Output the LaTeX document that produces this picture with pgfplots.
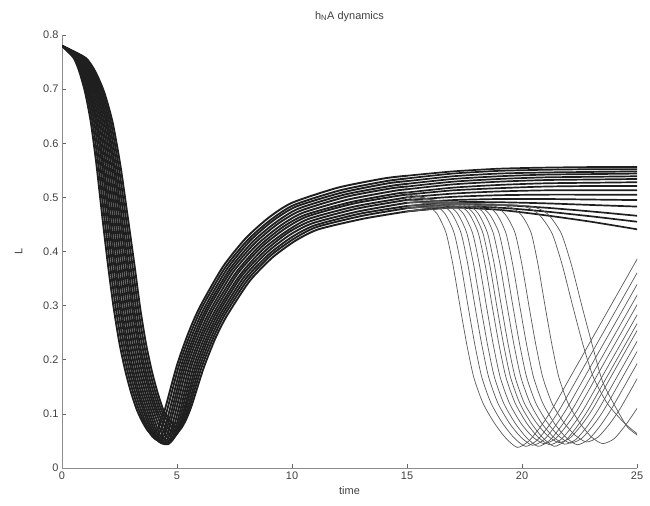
\documentclass[border=0pt]{standalone}
\usepackage{fontspec}
\setmainfont{Liberation Sans}
\usepackage{pgfplots}
\pgfplotsset{compat=1.18}
\begin{document}
\begin{tikzpicture}
\begin{axis}[
  scale only axis, width=575bp, height=433bp,
  xmin=0, xmax=25, ymin=0, ymax=0.8,
  axis x line*=bottom, axis y line*=left,
  axis line style={black!45, line width=0.6pt},
  tick align=inside, major tick length=4bp,
  tick style={black!60, line width=0.6pt},
  xtick={0,5,10,15,20,25}, ytick={0,0.1,0.2,0.3,0.4,0.5,0.6,0.7,0.8},
  /pgf/number format/assume math mode=true,
  yticklabel style={/pgf/number format/fixed, /pgf/number format/precision=1},
  tick label style={font=\fontsize{11}{12}\selectfont, text=black!75},
  label style={font=\fontsize{11}{12}\selectfont, text=black!75},
  ylabel style={yshift=14bp},
  title style={font=\fontsize{11}{12}\selectfont, text=black!75, yshift=4pt},
  title={h\textsubscript{N}A dynamics},
  xlabel={time}, ylabel={L},
  every axis plot/.append style={no marks, smooth, tension=0.4, line cap=round, line join=round},
  band/.style={black!88, line width=1.9pt},
  flat/.style={black!88, line width=1.7pt},
  drop/.style={black!65, line width=0.7pt},
]
\coordinate (bl) at (rel axis cs:0,0);
\coordinate (tr) at (rel axis cs:1,1);
% ---- phase 1: the dense band (t = 0 .. 15)
\addplot[band] coordinates {(0,0.78)(0.5,0.758)(0.75,0.733)(1,0.695)(1.25,0.64)(1.5,0.56)(1.75,0.465)(2,0.375)(2.25,0.295)(2.5,0.23)(2.75,0.18)(3,0.14)(3.25,0.108)(3.5,0.085)(3.75,0.068)(4,0.062)(4.25,0.08)(4.5,0.112)(5,0.19)(5.5,0.25)(6,0.298)(7,0.372)(8,0.425)(9,0.463)(10,0.49)(12,0.518)(14,0.535)(15,0.54)};
\addplot[band] coordinates {(0,0.78)(0.54,0.758)(0.804,0.733)(1.065,0.695)(1.324,0.64)(1.581,0.56)(1.836,0.465)(2.09,0.375)(2.34,0.295)(2.59,0.23)(2.84,0.18)(3.09,0.14)(3.34,0.108)(3.59,0.083)(3.84,0.063)(4.09,0.057)(4.34,0.075)(4.59,0.11)(5.09,0.19)(5.59,0.249)(6.09,0.297)(7.09,0.37)(8.09,0.422)(9.09,0.459)(10.09,0.486)(12.09,0.513)(14.09,0.53)(15,0.535)};
\addplot[band] coordinates {(0,0.78)(0.581,0.758)(0.858,0.733)(1.13,0.695)(1.398,0.64)(1.662,0.56)(1.923,0.465)(2.18,0.375)(2.43,0.295)(2.68,0.23)(2.93,0.18)(3.18,0.14)(3.43,0.108)(3.68,0.080)(3.93,0.058)(4.18,0.052)(4.43,0.07)(4.68,0.107)(5.18,0.189)(5.68,0.248)(6.18,0.295)(7.18,0.368)(8.18,0.420)(9.18,0.457)(10.18,0.483)(12.18,0.509)(14.18,0.526)(15,0.530)};
\addplot[band] coordinates {(0,0.78)(0.622,0.758)(0.912,0.733)(1.194,0.695)(1.471,0.64)(1.743,0.56)(2.009,0.465)(2.27,0.375)(2.52,0.295)(2.77,0.23)(3.02,0.18)(3.27,0.14)(3.52,0.108)(3.77,0.079)(4.02,0.056)(4.27,0.05)(4.52,0.068)(4.77,0.106)(5.27,0.189)(5.77,0.247)(6.27,0.294)(7.27,0.366)(8.27,0.417)(9.27,0.453)(10.27,0.479)(12.27,0.505)(14.27,0.521)(15,0.525)};
\addplot[band] coordinates {(0,0.78)(0.658,0.758)(0.96,0.733)(1.252,0.695)(1.537,0.64)(1.815,0.56)(2.086,0.465)(2.35,0.375)(2.6,0.295)(2.85,0.23)(3.1,0.18)(3.35,0.14)(3.6,0.108)(3.85,0.078)(4.1,0.053)(4.35,0.047)(4.6,0.065)(4.85,0.105)(5.35,0.188)(5.85,0.246)(6.35,0.293)(7.35,0.364)(8.35,0.414)(9.35,0.450)(10.35,0.475)(12.35,0.501)(14.35,0.517)(15,0.520)};
\addplot[band] coordinates {(0,0.78)(0.698,0.758)(1.014,0.733)(1.317,0.695)(1.611,0.64)(1.896,0.56)(2.172,0.465)(2.44,0.375)(2.69,0.295)(2.94,0.23)(3.19,0.18)(3.44,0.14)(3.69,0.108)(3.94,0.077)(4.19,0.051)(4.44,0.045)(4.69,0.063)(4.94,0.104)(5.44,0.188)(5.94,0.245)(6.44,0.291)(7.44,0.362)(8.44,0.411)(9.44,0.446)(10.44,0.471)(12.44,0.496)(14.44,0.512)(15,0.515)};
\addplot[band] coordinates {(0,0.78)(0.739,0.758)(1.068,0.733)(1.382,0.695)(1.685,0.64)(1.977,0.56)(2.259,0.465)(2.53,0.375)(2.78,0.295)(3.03,0.23)(3.28,0.18)(3.53,0.14)(3.78,0.108)(4.03,0.076)(4.28,0.05)(4.53,0.044)(4.78,0.062)(5.03,0.103)(5.53,0.187)(6.03,0.244)(6.53,0.290)(7.53,0.359)(8.53,0.408)(9.53,0.443)(10.53,0.467)(12.53,0.491)(14.53,0.507)(15,0.509)};
\addplot[band] coordinates {(0,0.78)(0.779,0.758)(1.122,0.733)(1.446,0.695)(1.758,0.64)(2.058,0.56)(2.345,0.465)(2.62,0.375)(2.87,0.295)(3.12,0.23)(3.37,0.18)(3.62,0.14)(3.87,0.108)(4.12,0.076)(4.37,0.05)(4.62,0.044)(4.87,0.062)(5.12,0.103)(5.62,0.187)(6.12,0.244)(6.62,0.288)(7.62,0.358)(8.62,0.406)(9.62,0.440)(10.62,0.464)(12.62,0.488)(14.62,0.503)(15,0.505)};
\addplot[band] coordinates {(0,0.78)(0.82,0.758)(1.176,0.733)(1.511,0.695)(1.832,0.64)(2.139,0.56)(2.432,0.465)(2.71,0.375)(2.96,0.295)(3.21,0.23)(3.46,0.18)(3.71,0.14)(3.96,0.108)(4.21,0.078)(4.46,0.053)(4.71,0.047)(4.96,0.065)(5.21,0.105)(5.71,0.186)(6.21,0.243)(6.71,0.287)(7.71,0.355)(8.71,0.403)(9.71,0.436)(10.71,0.460)(12.71,0.483)(14.71,0.498)(15,0.500)};
\addplot[band] coordinates {(0,0.78)(0.86,0.758)(1.23,0.733)(1.576,0.695)(1.906,0.64)(2.22,0.56)(2.518,0.465)(2.8,0.375)(3.05,0.295)(3.3,0.23)(3.55,0.18)(3.8,0.14)(4.05,0.108)(4.3,0.080)(4.55,0.058)(4.8,0.052)(5.05,0.07)(5.3,0.107)(5.8,0.186)(6.3,0.242)(6.8,0.286)(7.8,0.354)(8.8,0.400)(9.8,0.434)(10.8,0.456)(12.8,0.479)(14.8,0.494)(15,0.495)};
\addplot[band] coordinates {(0,0.78)(0.896,0.758)(1.278,0.733)(1.634,0.695)(1.972,0.64)(2.292,0.56)(2.595,0.465)(2.88,0.375)(3.13,0.295)(3.38,0.23)(3.63,0.18)(3.88,0.14)(4.13,0.108)(4.38,0.083)(4.63,0.063)(4.88,0.057)(5.13,0.075)(5.38,0.11)(5.88,0.185)(6.38,0.241)(6.88,0.284)(7.88,0.351)(8.88,0.397)(9.88,0.430)(10.88,0.452)(12.88,0.474)(15,0.490)};
\addplot[band] coordinates {(0,0.78)(0.937,0.758)(1.332,0.733)(1.698,0.695)(2.045,0.64)(2.373,0.56)(2.681,0.465)(2.97,0.375)(3.22,0.295)(3.47,0.23)(3.72,0.18)(3.97,0.14)(4.22,0.108)(4.47,0.085)(4.72,0.068)(4.97,0.062)(5.22,0.08)(5.47,0.112)(5.97,0.185)(6.47,0.240)(6.97,0.283)(7.97,0.349)(8.97,0.394)(9.97,0.426)(10.97,0.448)(12.97,0.470)(15,0.484)};
\addplot[band] coordinates {(0,0.78)(0.977,0.758)(1.386,0.733)(1.763,0.695)(2.119,0.64)(2.454,0.56)(2.768,0.465)(3.06,0.375)(3.31,0.295)(3.56,0.23)(3.81,0.18)(4.06,0.14)(4.31,0.108)(4.56,0.088)(4.81,0.073)(5.06,0.067)(5.31,0.085)(5.56,0.115)(6.06,0.185)(6.56,0.239)(7.06,0.282)(8.06,0.347)(9.06,0.392)(10.06,0.423)(11.06,0.445)(13.06,0.466)(15,0.480)};
\addplot[band] coordinates {(0,0.78)(1.018,0.758)(1.44,0.733)(1.828,0.695)(2.193,0.64)(2.535,0.56)(2.854,0.465)(3.15,0.375)(3.4,0.295)(3.65,0.23)(3.9,0.18)(4.15,0.14)(4.4,0.108)(4.65,0.09)(4.9,0.078)(5.15,0.072)(5.4,0.09)(5.65,0.117)(6.15,0.184)(6.65,0.238)(7.15,0.280)(8.15,0.345)(9.15,0.389)(10.15,0.420)(11.15,0.441)(13.15,0.461)(15,0.474)};
% ---- phase 2: curves that stay on the plateau
\addplot[flat] coordinates {(15,0.540)(17,0.548)(19,0.553)(21,0.555)(23,0.556)(25,0.556)};
\addplot[flat] coordinates {(15,0.535)(17,0.544)(19,0.549)(21,0.551)(23,0.552)(25,0.552)};
\addplot[flat] coordinates {(15,0.530)(17,0.539)(19,0.544)(21,0.546)(23,0.547)(25,0.548)};
\addplot[flat] coordinates {(15,0.525)(17,0.534)(19,0.539)(21,0.542)(23,0.543)(25,0.544)};
\addplot[flat] coordinates {(15,0.520)(17,0.529)(19,0.534)(21,0.537)(23,0.538)(25,0.539)};
\addplot[flat] coordinates {(15,0.515)(17,0.524)(19,0.529)(21,0.532)(23,0.533)(25,0.534)};
\addplot[flat] coordinates {(15,0.509)(17,0.518)(19,0.523)(21,0.526)(23,0.527)(25,0.528)};
\addplot[flat] coordinates {(15,0.505)(17,0.513)(19,0.517)(21,0.520)(23,0.521)(25,0.521)};
\addplot[flat] coordinates {(15,0.500)(17,0.507)(19,0.511)(21,0.513)(23,0.513)(25,0.513)};
\addplot[flat] coordinates {(15,0.495)(17,0.501)(19,0.504)(21,0.505)(23,0.505)(25,0.505)};
\addplot[flat] coordinates {(15,0.490)(17,0.495)(19,0.497)(21,0.497)(23,0.496)(25,0.495)};
\addplot[flat] coordinates {(15,0.484)(17,0.491)(19,0.491)(21,0.489)(23,0.486)(25,0.483)};
\addplot[flat] coordinates {(15,0.480)(17,0.487)(19,0.486)(21,0.481)(23,0.474)(25,0.466)};
\addplot[flat] coordinates {(15,0.474)(17,0.483)(19,0.481)(21,0.474)(23,0.465)(25,0.455)};
\addplot[flat] coordinates {(15,0.474)(17,0.481)(19,0.477)(21,0.467)(23,0.455)(25,0.441)};
% ---- phase 2: curves that drop and rise again
\addplot[drop] coordinates {(15,0.500)(15.8,0.487)(16.3,0.47)(16.7,0.434)(17,0.375)(17.3,0.3)(17.6,0.228)(17.9,0.168)(18.3,0.12)(18.8,0.083)(19.3,0.055)(19.8,0.038)(20.3,0.05)(20.8,0.076)(21.3,0.108)(22.3,0.183)(23.3,0.258)(24.3,0.333)(25.3,0.408)};
\addplot[drop] coordinates {(15,0.495)(16.15,0.487)(16.65,0.47)(17.05,0.434)(17.35,0.375)(17.65,0.3)(17.95,0.228)(18.25,0.168)(18.65,0.12)(19.15,0.083)(19.65,0.056)(20.15,0.04)(20.65,0.051)(21.15,0.077)(21.65,0.109)(22.65,0.184)(23.65,0.259)(24.65,0.334)(25.65,0.409)};
\addplot[drop] coordinates {(15,0.509)(15.45,0.503)(16.45,0.489)(16.95,0.47)(17.35,0.434)(17.65,0.375)(17.95,0.3)(18.25,0.228)(18.55,0.168)(18.95,0.12)(19.45,0.083)(19.95,0.057)(20.45,0.042)(20.95,0.052)(21.45,0.078)(21.95,0.11)(22.95,0.185)(23.95,0.26)(24.95,0.335)(25.95,0.41)};
\addplot[drop] coordinates {(15,0.490)(15.7,0.491)(16.7,0.487)(17.2,0.47)(17.6,0.434)(17.9,0.375)(18.2,0.3)(18.5,0.228)(18.8,0.168)(19.2,0.12)(19.7,0.083)(20.2,0.056)(20.7,0.04)(21.2,0.051)(21.7,0.077)(22.2,0.109)(23.2,0.184)(24.2,0.259)(25.2,0.334)};
\addplot[drop] coordinates {(15,0.505)(15.95,0.497)(16.95,0.487)(17.45,0.47)(17.85,0.434)(18.15,0.375)(18.45,0.3)(18.75,0.228)(19.05,0.168)(19.45,0.12)(19.95,0.083)(20.45,0.058)(20.95,0.045)(21.45,0.054)(21.95,0.079)(22.45,0.11)(23.45,0.185)(24.45,0.26)(25.45,0.335)};
\addplot[drop] coordinates {(15,0.484)(16.2,0.49)(17.2,0.487)(17.7,0.47)(18.1,0.434)(18.4,0.375)(18.7,0.3)(19,0.228)(19.3,0.168)(19.7,0.12)(20.2,0.083)(20.7,0.057)(21.2,0.043)(21.7,0.053)(22.2,0.078)(22.7,0.11)(23.7,0.185)(24.7,0.26)(25.7,0.335)};
\addplot[drop] coordinates {(15,0.500)(16.4,0.494)(17.4,0.487)(17.9,0.47)(18.3,0.434)(18.6,0.375)(18.9,0.3)(19.2,0.228)(19.5,0.168)(19.9,0.12)(20.4,0.083)(20.9,0.056)(21.4,0.04)(21.9,0.051)(22.4,0.077)(22.9,0.109)(23.9,0.184)(24.9,0.259)(25.9,0.334)};
\addplot[drop] coordinates {(15,0.480)(16.6,0.489)(17.6,0.487)(18.1,0.47)(18.5,0.434)(18.8,0.375)(19.1,0.3)(19.4,0.228)(19.7,0.168)(20.1,0.12)(20.6,0.085)(21.1,0.06)(21.6,0.047)(22.1,0.056)(22.6,0.08)(23.1,0.111)(24.1,0.186)(25.1,0.261)};
\addplot[drop] coordinates {(15,0.495)(16.85,0.491)(17.85,0.487)(18.35,0.47)(18.75,0.434)(19.05,0.375)(19.35,0.3)(19.65,0.228)(19.95,0.168)(20.35,0.12)(20.85,0.083)(21.35,0.058)(21.85,0.044)(22.35,0.053)(22.85,0.078)(23.35,0.11)(24.35,0.185)(25.35,0.26)};
\addplot[drop] coordinates {(15,0.474)(17.1,0.487)(18.1,0.485)(18.6,0.468)(19,0.434)(19.3,0.375)(19.6,0.3)(19.9,0.228)(20.2,0.168)(20.6,0.12)(21.1,0.084)(21.6,0.059)(22.1,0.046)(22.6,0.055)(23.1,0.079)(23.6,0.11)(24.6,0.185)(25.6,0.26)};
\addplot[drop] coordinates {(15,0.490)(17.4,0.49)(18.4,0.486)(18.9,0.469)(19.3,0.434)(19.6,0.375)(19.9,0.3)(20.2,0.228)(20.5,0.168)(20.9,0.12)(21.4,0.083)(21.9,0.057)(22.4,0.043)(22.9,0.053)(23.4,0.078)(23.9,0.11)(24.9,0.185)(25.9,0.26)};
\addplot[drop] coordinates {(15,0.480)(17.8,0.488)(18.8,0.484)(19.3,0.467)(19.7,0.434)(20,0.375)(20.3,0.3)(20.6,0.228)(20.9,0.168)(21.3,0.12)(21.8,0.085)(22.3,0.061)(22.8,0.048)(23.3,0.057)(23.8,0.081)(24.3,0.112)(25.3,0.187)};
\addplot[drop] coordinates {(15,0.484)(18.5,0.488)(19.5,0.482)(20,0.466)(20.4,0.434)(20.7,0.375)(21,0.3)(21.3,0.228)(21.6,0.168)(22,0.12)(22.5,0.084)(23,0.058)(23.5,0.045)(24,0.054)(24.5,0.079)(25,0.11)};
\addplot[drop] coordinates {(15,0.474)(18.5,0.486)(19.95,0.485)(20.7,0.47)(21.3,0.434)(21.75,0.375)(22.2,0.3)(22.65,0.228)(23.1,0.168)(23.7,0.12)(24.45,0.083)(25.2,0.057)};
\addplot[drop] coordinates {(15,0.480)(19,0.485)(20.35,0.484)(21.1,0.47)(21.7,0.434)(22.15,0.375)(22.6,0.3)(23.05,0.228)(23.5,0.16)(24.1,0.11)(24.6,0.075)(25.2,0.055)};
\end{axis}
\pgfresetboundingbox
\path[use as bounding box] ([xshift=-62bp,yshift=-38bp]bl) rectangle ([xshift=13bp,yshift=35bp]tr);
\end{tikzpicture}
\end{document}
